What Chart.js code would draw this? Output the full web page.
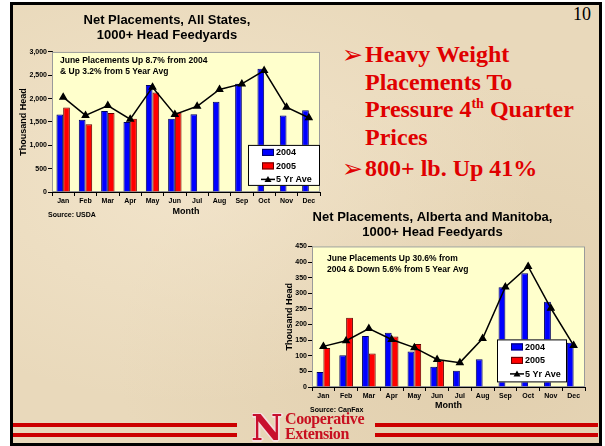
<!DOCTYPE html>
<html>
<head>
<meta charset="utf-8">
<script src="https://cdn.jsdelivr.net/npm/chart.js@4.4.1/dist/chart.umd.min.js"></script>
<style>
  body { margin:0; width:605px; height:446px; background:#fff; position:relative; overflow:hidden;
         font-family: Arial, "Liberation Sans", sans-serif; }
  #slide { position:absolute; left:10px; top:2px; width:586px; height:438px; border:3px solid #000;
           background:#e9d9bb;
           background-image: radial-gradient(ellipse at 30% 40%, rgba(245,232,208,.7), rgba(0,0,0,0) 60%),
                             radial-gradient(ellipse at 80% 80%, rgba(220,200,165,.6), rgba(0,0,0,0) 55%); }
  canvas { position:absolute; }
  #c1 { left:14px; top:6px; }
  #c2 { left:280px; top:203px; }
  .src { position:absolute; font:bold 7px Arial, "Liberation Sans", sans-serif; color:#000; }
  .bul { position:absolute; font:bold 24px "Liberation Serif", "Times New Roman", serif; color:#e00000;
         line-height:27.5px; }
  .bul .ar { position:absolute; left:-1px; top:0px; font-family:"DejaVu Sans", sans-serif; font-size:25px; font-weight:normal; }
  .bul .tx { position:absolute; left:22px; white-space:nowrap; }
  sup { font-size:14px; vertical-align:9px; line-height:0; }
  #pg { position:absolute; left:573px; top:4px; font:18px "Liberation Serif", "Times New Roman", serif; }
  .rl { position:absolute; height:4px; background:#cc0000; }
  #logoN { position:absolute; left:250px; top:407px; width:34px; text-align:center;
           font:bold 36px "DejaVu Serif", serif; color:#c8102e; line-height:40px;
           transform: scaleX(0.95);
           text-shadow: -1px -1px 0 #f4dede, 1px -1px 0 #f4dede, -1px 1px 0 #f4dede, 1px 1px 0 #f4dede,
                        0 2px 0 #f4dede, 2px 0 0 #f4dede; }
  .lg { position:absolute; left:285px; font:bold 16px "Liberation Serif", serif; color:#c81020; letter-spacing:-0.4px; }
</style>
</head>
<body>
<div id="slide"></div>
<canvas id="c1" width="320" height="214"></canvas>
<canvas id="c2" width="320" height="211"></canvas>
<div class="src" style="left:48px;top:211px;">Source: USDA</div>
<div class="src" style="left:310px;top:406px;">Source: CanFax</div>

<div id="pg">10</div>
<div class="bul" style="left:343px;top:41px;">
  <span class="ar">&#10146;</span>
  <span class="tx">Heavy Weight<br>Placements To<br>Pressure 4<sup>th</sup> Quarter<br>Prices</span>
</div>
<div class="bul" style="left:343px;top:155px;">
  <span class="ar">&#10146;</span>
  <span class="tx">800+ lb. Up 41%</span>
</div>

<div class="rl" style="left:13px;width:224px;top:423px;"></div>
<div class="rl" style="left:13px;width:224px;top:433px;"></div>
<div class="rl" style="left:375px;width:223px;top:423px;"></div>
<div class="rl" style="left:375px;width:223px;top:433px;"></div>
<div id="logoN">N</div>
<div class="lg" style="top:410px;">Cooperative</div>
<div class="lg" style="top:425px;">Extension</div>

<script>
// months and series (thousand head)
const months = ['Jan','Feb','Mar','Apr','May','Jun','Jul','Aug','Sep','Oct','Nov','Dec'];

const usa2004 = [1660, 1545, 1735, 1500, 2290, 1570, 1665, 1935, 2320, 2640, 1640, 1750];
const usa2005 = [1810, 1450, 1690, 1570, 2130, 1705, null, null, null, null, null, null];
const usaAvg  = [2030, 1640, 1850, 1560, 2245, 1660, 1835, 2195, 2315, 2600, 1815, 1590];

const can2004 = [48, 102, 163, 174, 114, 65, 52, 89, 319, 364, 273, 142];
const can2005 = [125, 222, 107, 162, 138, 85, null, null, null, null, null, null];
const canAvg  = [130, 148, 187, 152, 126, 88, 78, 155, 320, 386, 252, 133];

const usaTicks = [0, 500, 1000, 1500, 2000, 2500, 3000];
const canTicks = [0, 50, 100, 150, 200, 250, 300, 350, 400, 450];

const plotBg = {
  id: 'plotBg',
  beforeDatasetsDraw(chart) {
    const { ctx, chartArea: a } = chart;
    ctx.save();
    ctx.fillStyle = '#ffffcc';
    ctx.fillRect(a.left, a.top, a.right - a.left, a.bottom - a.top);
    ctx.strokeStyle = '#9a9a9a';
    ctx.lineWidth = 1;
    ctx.strokeRect(a.left + 0.5, a.top + 0.5, a.right - a.left - 1, a.bottom - a.top - 1);
    ctx.restore();
  }
};

// legend in a white box plus the note, both inside the plot
const boxLegend = {
  id: 'boxLegend',
  afterDatasetsDraw(chart, args, o) {
    const { ctx, chartArea: a } = chart;
    ctx.save();
    ctx.font = o.noteFont;
    ctx.fillStyle = '#000';
    ctx.textBaseline = 'middle';
    o.note.forEach((t, i) => ctx.fillText(t, a.left + o.noteX, a.top + o.noteY + i * o.noteGap));

    const x = a.left + o.x, y = a.top + o.y;
    ctx.fillStyle = '#fff';
    ctx.fillRect(x, y, o.w, o.h);
    ctx.strokeStyle = '#000';
    ctx.lineWidth = 1;
    ctx.strokeRect(x + 0.5, y + 0.5, o.w - 1, o.h - 1);
    ctx.font = o.font;
    chart.data.datasets.forEach((ds, i) => {
      const ry = y + 7.5 + i * 13.5;
      if (ds.type === 'line') {
        ctx.strokeStyle = '#000';
        ctx.lineWidth = 1.5;
        ctx.beginPath();
        ctx.moveTo(x + 13, ry); ctx.lineTo(x + 27, ry);
        ctx.stroke();
        ctx.fillStyle = '#000';
        ctx.beginPath();
        ctx.moveTo(x + 20, ry - 3.5); ctx.lineTo(x + 23.5, ry + 2.5); ctx.lineTo(x + 16.5, ry + 2.5);
        ctx.closePath(); ctx.fill();
      } else {
        ctx.fillStyle = ds.backgroundColor;
        ctx.fillRect(x + 14, ry - 3.5, 12, 7);
        ctx.strokeStyle = ds.borderColor;
        ctx.lineWidth = 1;
        ctx.strokeRect(x + 14.5, ry - 3, 11, 6);
      }
      ctx.fillStyle = '#000';
      ctx.fillText(ds.label, x + 28, ry + 0.5);
    });
    ctx.restore();
  }
};

function makeChart(id, a, b, avg, ticks, cfg) {
  const step = ticks[1] - ticks[0];
  return new Chart(document.getElementById(id), {
    data: {
      labels: months,
      datasets: [
        { type: 'bar', label: '2004', data: a, backgroundColor: '#0000ff', borderColor: '#000060',
          borderWidth: 1, order: 2, categoryPercentage: 0.6, barPercentage: 1 },
        { type: 'bar', label: '2005', data: b, backgroundColor: '#ff0000', borderColor: '#600000',
          borderWidth: 1, order: 2, categoryPercentage: 0.6, barPercentage: 1 },
        { type: 'line', label: '5 Yr Ave', data: avg, borderColor: '#000', borderWidth: 1.5,
          pointStyle: 'triangle', pointRadius: 3.5, pointBackgroundColor: '#000', pointBorderColor: '#000',
          tension: 0, order: 1 }
      ]
    },
    options: {
      responsive: false,
      animation: false,
      layout: { padding: { left: 0, right: cfg.padRight, top: 0, bottom: 0 } },
      plugins: {
        legend: { display: false },
        tooltip: { enabled: false },
        title: { display: true, text: cfg.title, color: '#000',
                 font: { family: 'Arial', size: 13, weight: 'bold', lineHeight: 1.15 },
                 padding: { top: cfg.titleTop, bottom: cfg.titleGap } },
        boxLegend: cfg.legend
      },
      scales: {
        x: {
          grid: { drawOnChartArea: false, color: '#000', tickLength: 4, offset: true },
          border: { color: '#000' },
          ticks: { color: '#000', padding: 1, font: { family: 'Arial', size: 7, weight: 'bold' }, maxRotation: 0 },
          title: { display: true, text: 'Month', color: '#000', padding: { top: 0, bottom: 3 },
                   font: { family: 'Arial', size: 9, weight: 'bold' } },
          afterFit(s) { s.height = cfg.xH; }
        },
        y: {
          min: ticks[0], max: ticks[ticks.length - 1],
          grid: { drawOnChartArea: false, color: '#000', tickLength: 4 },
          border: { color: '#000' },
          ticks: { stepSize: step, color: '#000', padding: 1,
                   font: { family: 'Arial', size: 7, weight: 'bold' },
                   callback: v => v.toLocaleString('en-US') },
          title: { display: true, text: 'Thousand Head', color: '#000', padding: { top: 4, bottom: 0 },
                   font: { family: 'Arial', size: 9, weight: 'bold' } },
          afterFit(s) { s.width = cfg.yW; }
        }
      }
    },
    plugins: [plotBg, boxLegend]
  });
}

makeChart('c1', usa2004, usa2005, usaAvg, usaTicks, {
  title: ['Net Placements, All States,', '1000+ Head Feedyards'],
  titleTop: 7, titleGap: 9, padRight: 14, xH: 28, yW: 38,
  legend: { x: 196, y: 93, w: 72, h: 41, font: 'bold 9px Arial',
            note: ['June Placements Up 8.7% from 2004', '& Up 3.2% from 5 Year Avg'],
            noteX: 8, noteY: 9, noteGap: 10.5, noteFont: 'bold 8.5px Arial' }
});

makeChart('c2', can2004, can2005, canAvg, canTicks, {
  title: ['Net Placements, Alberta and Manitoba,', '1000+ Head Feedyards'],
  titleTop: 6.5, titleGap: 7, padRight: 15, xH: 27, yW: 32,
  legend: { x: 185, y: 93, w: 70, h: 43, font: 'bold 9px Arial',
            note: ['June Placements Up 30.6% from', '2004 & Down 5.6% from 5 Year Avg'],
            noteX: 15, noteY: 12, noteGap: 11.5, noteFont: 'bold 8.5px Arial' }
});
</script>
</body>
</html>
